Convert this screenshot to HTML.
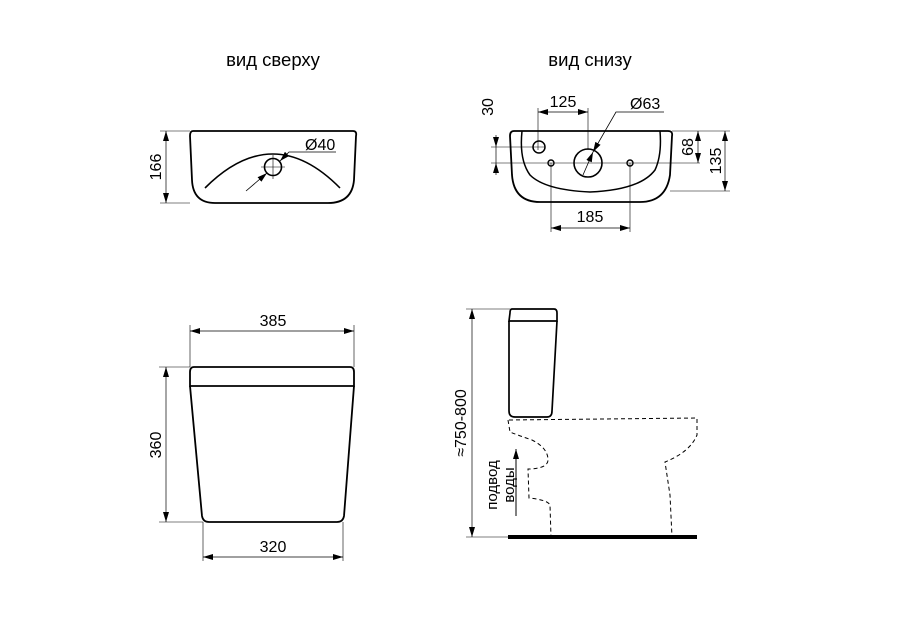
<!DOCTYPE html>
<html><head><meta charset="utf-8"><style>
html,body{margin:0;padding:0;background:#fff}
svg{display:block}
text{font-family:"Liberation Sans",sans-serif;fill:#000}
</style></head><body>
<svg width="900" height="636" viewBox="0 0 900 636" xmlns="http://www.w3.org/2000/svg">
<defs>
<marker id="a" viewBox="0 0 10 6" refX="10" refY="3" markerWidth="10" markerHeight="6" orient="auto-start-reverse" markerUnits="userSpaceOnUse"><path d="M0,0 L10,3 L0,6 Z" fill="#000"/></marker>
</defs>
<text x="273" y="66" font-size="18.5" text-anchor="middle">вид сверху</text>
<text x="590" y="66" font-size="18.5" text-anchor="middle">вид снизу</text>

<!-- top view -->
<g fill="none" stroke="#000">
<path d="M193,131 L353,131 Q357,131 356,136 L354,180 Q352,203 328,203 L215,203 Q193,203 192,180 L190,136 Q190,131 193,131 Z" stroke-width="1.8"/>
<path d="M205,188 Q273,120 340,188" stroke-width="1.6"/>
<circle cx="273" cy="167" r="8.5" stroke-width="1.6"/>
<path d="M273,155 V179 M261,167 H285" stroke-width="0.6"/>
<path d="M246,191 L267,173" stroke-width="0.8" marker-end="url(#a)"/>
<path d="M336,152 H289 L280,161" stroke-width="0.8" marker-end="url(#a)"/>
<path d="M160,131 H190 M160,203 H190" stroke-width="0.6"/>
<path d="M166,131 V203" stroke-width="0.7" marker-start="url(#a)" marker-end="url(#a)"/>
</g>
<text x="305" y="150" font-size="16">Ø40</text>
<text transform="translate(161,167) rotate(-90)" font-size="16" text-anchor="middle">166</text>

<!-- bottom view -->
<g fill="none" stroke="#000">
<path d="M514,131 L668,131 Q673,131 672,136 L670,175 Q666,202 640,202 L540,202 Q514,202 512,175 L510,136 Q510,131 514,131 Z" stroke-width="1.8"/>
<path d="M522,131 Q519,160 530,175 Q545,190 590,192 Q640,190 655,170 Q662,155 660,131" stroke-width="1.5"/>
<circle cx="539" cy="147" r="6" stroke-width="1.5"/>
<circle cx="588" cy="163" r="14" stroke-width="1.6"/>
<circle cx="551" cy="163" r="3" stroke-width="1.4"/>
<circle cx="630" cy="163" r="3" stroke-width="1.4"/>
<path d="M491,147 H545 M491,163 H700 M538,108 V150 M588,108 V150 M551,163 V232 M630,163 V232 M672,131 H730 M670,191 H730" stroke-width="0.6"/>
<path d="M538,112 H588" stroke-width="0.7" marker-start="url(#a)" marker-end="url(#a)"/>
<path d="M551,228 H630" stroke-width="0.7" marker-start="url(#a)" marker-end="url(#a)"/>
<path d="M496,135 V147" stroke-width="0.7" marker-end="url(#a)"/>
<path d="M496,175 V163" stroke-width="0.7" marker-end="url(#a)"/>
<path d="M496,147 V163" stroke-width="0.7"/>
<path d="M698,131 V163" stroke-width="0.7" marker-start="url(#a)" marker-end="url(#a)"/>
<path d="M725,131 V191" stroke-width="0.7" marker-start="url(#a)" marker-end="url(#a)"/>
<path d="M664,112 H616 L593,152" stroke-width="0.8" marker-end="url(#a)"/>
<path d="M593,152 L583,175" stroke-width="0.8" marker-start="url(#a)"/>
</g>
<text x="563" y="107" font-size="16" text-anchor="middle">125</text>
<text x="590" y="222" font-size="16" text-anchor="middle">185</text>
<text x="630" y="109" font-size="16">Ø63</text>
<text transform="translate(493,107) rotate(-90)" font-size="16" text-anchor="middle">30</text>
<text transform="translate(693,147) rotate(-90)" font-size="16" text-anchor="middle">68</text>
<text transform="translate(721,161) rotate(-90)" font-size="16" text-anchor="middle">135</text>

<!-- front view -->
<g fill="none" stroke="#000">
<path d="M194,367 L350,367 Q354,367 354,372 L354,386 L190,386 L190,372 Q190,367 194,367 Z" stroke-width="1.8"/>
<path d="M190,386 L202,516 Q203,522 209,522 L337,522 Q343,522 344,516 L354,386" stroke-width="1.8"/>
<path d="M190,325 V367 M354,325 V367 M203,522 V561 M343,522 V561 M159,367 H190 M159,522 H203" stroke-width="0.6"/>
<path d="M190,331 H354" stroke-width="0.7" marker-start="url(#a)" marker-end="url(#a)"/>
<path d="M203,557 H343" stroke-width="0.7" marker-start="url(#a)" marker-end="url(#a)"/>
<path d="M166,367 V522" stroke-width="0.7" marker-start="url(#a)" marker-end="url(#a)"/>
</g>
<text x="273" y="326" font-size="16" text-anchor="middle">385</text>
<text x="273" y="552" font-size="16" text-anchor="middle">320</text>
<text transform="translate(161,445) rotate(-90)" font-size="16" text-anchor="middle">360</text>

<!-- side view -->
<g fill="none" stroke="#000">
<path d="M512,309 L554,309 Q557,309 557,313 L557,321 L509,321 L510,313 Q510,309 512,309 Z" stroke-width="1.7"/>
<path d="M509,321 L509,411 Q509,417 515,417 L547,417 Q552,417 552,411 L557,321" stroke-width="1.7"/>
<path d="M508,420 L510,432 Q520,436 532,440 Q548,448 548,460 Q548,468 530,469 L528,469 L529,498 Q548,500 550,505 L551,537 M509,420 L697,418 L697,435 Q690,452 665,462 L670,495 L672,537" stroke-width="1" stroke-dasharray="4,3"/>
<path d="M466,309 H510 M466,537 H508" stroke-width="0.6"/>
<path d="M472,309 V537" stroke-width="0.7" marker-start="url(#a)" marker-end="url(#a)"/>
<path d="M516,516 V449" stroke-width="1" marker-end="url(#a)"/>
</g>
<rect x="508" y="535" width="189" height="4" fill="#000"/>
<text transform="translate(466,423) rotate(-90)" font-size="16" text-anchor="middle">≈750-800</text>
<text transform="translate(497,485) rotate(-90)" font-size="15" text-anchor="middle">подвод</text>
<text transform="translate(514,485) rotate(-90)" font-size="15" text-anchor="middle">воды</text>
</svg>
</body></html>
